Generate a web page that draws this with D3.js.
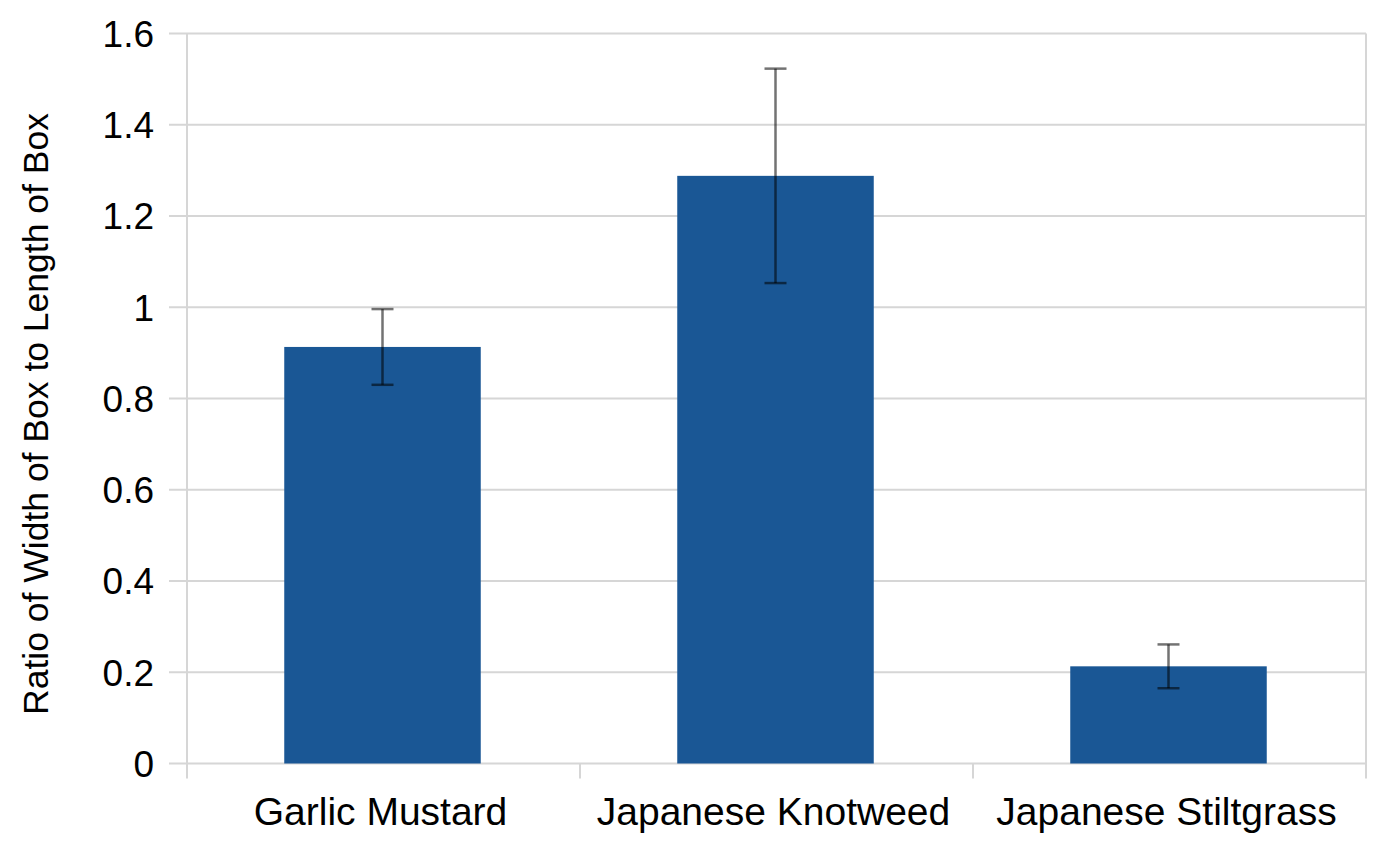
<!DOCTYPE html>
<html>
<head>
<meta charset="utf-8">
<script src="https://cdn.jsdelivr.net/npm/d3@7"></script>
<style>
  body { margin: 0; background: #fff; }
  text { font-family: "Liberation Sans", Arial, Helvetica, sans-serif; fill: #000; }
</style>
</head>
<body>
<svg id="chart"></svg>
<script>
/*values*/
const categories = ["Garlic Mustard", "Japanese Knotweed", "Japanese Stiltgrass"];
const ratios = [0.913, 1.288, 0.213];
const errors = [0.083, 0.235, 0.048];
const yTicks = [0, 0.2, 0.4, 0.6, 0.8, 1, 1.2, 1.4, 1.6];
const yLabel = "Ratio of Width of Box to Length of Box";

const width = 1374;
const height = 847;
const margin = {top: 33.5, right: 8, bottom: 83.5, left: 187};

const svg = d3.select("#chart")
  .attr("width", width)
  .attr("height", height);

const x = d3.scaleBand()
  .domain(categories)
  .range([margin.left, width - margin.right])
  .padding(0);

const y = d3.scaleLinear()
  .domain([0, 1.6])
  .range([height - margin.bottom, margin.top]);

const gridColor = "#d6d6d6";

/*horizontal gridlines with short tick stubs on the left*/
svg.append("g")
  .selectAll("line")
  .data(yTicks)
  .enter()
  .append("line")
  .attr("x1", margin.left - 18)
  .attr("x2", width - margin.right)
  .attr("y1", d => y(d))
  .attr("y2", d => y(d))
  .attr("stroke", gridColor)
  .attr("stroke-width", 2);

/*tick labels*/
svg.append("g")
  .selectAll("text")
  .data(yTicks)
  .enter()
  .append("text")
  .attr("x", 154)
  .attr("y", d => y(d))
  .attr("dy", "0.36em")
  .attr("text-anchor", "end")
  .style("font-size", "37px")
  .text(d => d3.format("")(d));

/*vertical lines: left axis, category separators, right edge*/
const bounds = categories.map(c => x(c)).concat([width - margin.right]);
svg.append("g")
  .selectAll("line")
  .data(bounds)
  .enter()
  .append("line")
  .attr("x1", d => d)
  .attr("x2", d => d)
  .attr("y1", (d, i) => (i === 0 || i === bounds.length - 1) ? margin.top : y(0))
  .attr("y2", y(0) + 15)
  .attr("stroke", gridColor)
  .attr("stroke-width", 2);

/*bars*/
const barW = x.bandwidth() * 0.5;
svg.append("g")
  .selectAll("rect")
  .data(categories)
  .enter()
  .append("rect")
  .attr("x", d => x(d) + x.bandwidth() / 2 - barW / 2 - 1)
  .attr("y", (d, i) => y(ratios[i]))
  .attr("width", barW)
  .attr("height", (d, i) => y(0) - y(ratios[i]))
  .attr("fill", "#1a5795");

/*error bars*/
const capW = 11;
const eb = svg.append("g")
  .attr("stroke", "#000")
  .attr("stroke-opacity", 0.55)
  .attr("stroke-width", 2.5);

categories.forEach((c, i) => {
  const cx = x(c) + x.bandwidth() / 2 - 1;
  const top = y(ratios[i] + errors[i]);
  const bot = y(ratios[i] - errors[i]);
  eb.append("line").attr("x1", cx).attr("x2", cx).attr("y1", top).attr("y2", bot);
  eb.append("line").attr("x1", cx - capW).attr("x2", cx + capW).attr("y1", top).attr("y2", top);
  eb.append("line").attr("x1", cx - capW).attr("x2", cx + capW).attr("y1", bot).attr("y2", bot);
});

/*category labels*/
svg.append("g")
  .selectAll("text")
  .data(categories)
  .enter()
  .append("text")
  .attr("x", d => x(d) + x.bandwidth() / 2 - 3)
  .attr("y", 825)
  .attr("text-anchor", "middle")
  .style("font-size", "39px")
  .text(d => d);

/*y axis title*/
svg.append("text")
  .attr("transform", "translate(48 414) rotate(-90)")
  .attr("text-anchor", "middle")
  .style("font-size", "35.5px")
  .text(yLabel);
</script>
</body>
</html>
